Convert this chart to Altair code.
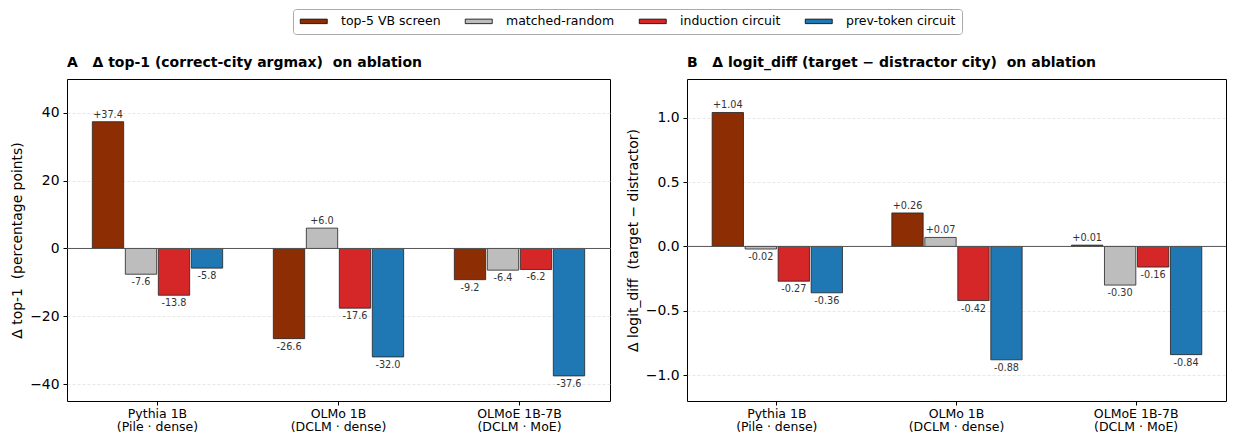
import altair as alt
import pandas as pd

models = ["Pythia 1B\n(Pile · dense)", "OLMo 1B\n(DCLM · dense)", "OLMoE 1B-7B\n(DCLM · MoE)"]
conditions = ["top-5 VB screen", "matched-random", "induction circuit", "prev-token circuit"]
colors = ["#8c2d04", "#bdbdbd", "#d62728", "#1f77b4"]

# Panel A: delta top-1 (percentage points), per model
top1_vb = [37.4, -26.6, -9.2]
top1_rand = [-7.6, 6.0, -6.4]
top1_ind = [-13.8, -17.6, -6.2]
top1_prev = [-5.8, -32.0, -37.6]

# Panel B: delta logit_diff, per model
ld_vb = [1.04, 0.26, 0.01]
ld_rand = [-0.02, 0.07, -0.30]
ld_ind = [-0.27, -0.42, -0.16]
ld_prev = [-0.36, -0.88, -0.84]

top1_ticks = [-40, -20, 0, 20, 40]
ld_ticks = [-1.0, -0.5, 0.0, 0.5, 1.0]

NB = "\u00a0"


def frame(series, dec):
    rows = []
    for cond, vals in zip(conditions, series):
        for m, v in zip(models, vals):
            rows.append({"model": m, "cond": cond, "val": v, "lab": f"{v:+.{dec}f}"})
    return pd.DataFrame(rows)


legend = alt.Legend(
    title=None,
    orient="none",
    legendX=226,
    legendY=-70,
    direction="horizontal",
    symbolType="M-2.7,-0.45L2.7,-0.45L2.7,0.45L-2.7,0.45Z",
    symbolSize=100,
    symbolOffset=8.5,
    symbolStrokeColor="#000",
    symbolStrokeWidth=0.8,
    symbolOpacity=1,
    labelFontSize=12.5,
    labelColor="#000",
    labelOffset=21,
    columnPadding=22,
    padding=6,
    strokeColor="#aaaaaa",
    fillColor="#ffffff",
    cornerRadius=3,
)


def panel(df, domain, ticks, fmt, title, ytitle, width):
    x = alt.X(
        "model:N",
        sort=models,
        title=None,
        scale=alt.Scale(paddingInner=0.28, paddingOuter=0.14),
        axis=alt.Axis(
            labelAngle=0,
            labelExpr="split(datum.label, '\\n')",
            labelFontSize=12.5,
            labelLineHeight=13.5,
            labelPadding=2,
            labelColor="#000",
            tickSize=4,
            tickColor="#000",
            domain=False,
            grid=False,
            bandPosition=0.5,
        ),
    )
    xo = alt.XOffset("cond:N", sort=conditions, scale=alt.Scale(paddingInner=0.05, paddingOuter=0))
    y = alt.Y(
        "val:Q",
        title=ytitle,
        scale=alt.Scale(domain=domain, nice=False, zero=False),
        axis=alt.Axis(
            values=ticks,
            format=fmt,
            labelFontSize=13.9,
            labelColor="#000",
            labelPadding=4,
            titleFontSize=13.9,
            titleFontWeight="normal",
            titleColor="#000",
            titlePadding=5,
            tickSize=4,
            tickColor="#000",
            domain=False,
            grid=True,
            gridDash=[3, 2],
            gridColor="#dcdcdc",
            gridWidth=0.7,
        ),
    )
    color = alt.Color("cond:N", sort=conditions, scale=alt.Scale(domain=conditions, range=colors), legend=legend)
    base = alt.Chart(df)
    bars = base.mark_bar(stroke="#222", strokeWidth=0.8).encode(x=x, xOffset=xo, y=y, color=color)
    zero = alt.Chart(pd.DataFrame({"z": [0]})).mark_rule(color="#555", strokeWidth=1).encode(y="z:Q")
    pos = base.transform_filter("datum.val >= 0").mark_text(
        baseline="bottom", dy=-2, fontSize=9.7, color="#333"
    ).encode(x=x, xOffset=xo, y="val:Q", text="lab:N")
    neg = base.transform_filter("datum.val < 0").mark_text(
        baseline="top", dy=3, fontSize=9.7, color="#333"
    ).encode(x=x, xOffset=xo, y="val:Q", text="lab:N")
    return alt.layer(bars, zero, pos, neg).properties(
        width=width,
        height=322,
        title=alt.TitleParams(title, anchor="start", frame="group", fontSize=14, fontWeight="bold", offset=9, color="#000"),
    )


dfA = frame([top1_vb, top1_rand, top1_ind, top1_prev], 1)
dfB = frame([ld_vb, ld_rand, ld_ind, ld_prev], 2)

A = panel(
    dfA, [-45, 50], top1_ticks, "d",
    f"A{NB}{NB}{NB}Δ top-1 (correct-city argmax){NB}{NB}on ablation",
    f"Δ top-1{NB}{NB}(percentage points)", 543,
)
B = panel(
    dfB, [-1.2, 1.3], ld_ticks, ".1f",
    f"B{NB}{NB}{NB}Δ logit_diff (target − distractor city){NB}{NB}on ablation",
    f"Δ logit_diff{NB}{NB}(target − distractor)", 539,
)

chart = (
    alt.hconcat(A, B, spacing=77, bounds="flush")
    .resolve_scale(y="independent", x="independent", color="shared")
    .properties(padding={"left": 2, "top": 0, "right": 0, "bottom": 0})
    .configure(font="DejaVu Sans")
    .configure_view(stroke="#000", strokeWidth=1)
)

chart.save("out.html", embed_options={"renderer": "svg", "actions": False})
